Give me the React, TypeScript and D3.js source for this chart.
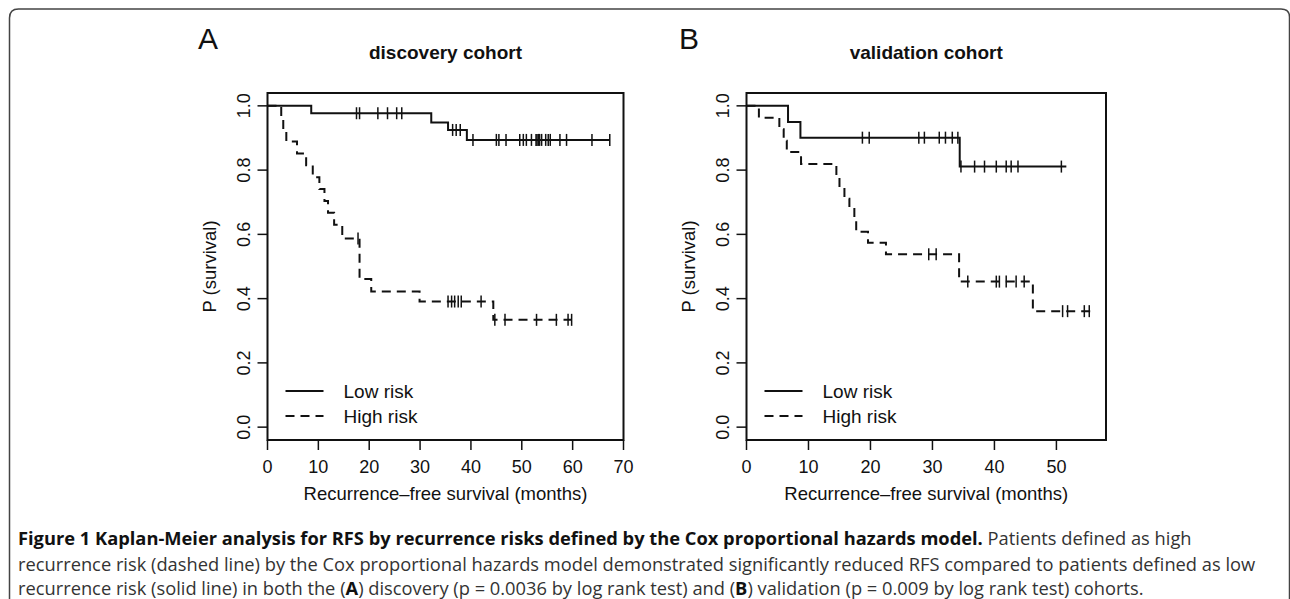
import React from "react";
import * as d3 from "d3";

// ---------- Data ----------
// Panel A: discovery cohort
const aLowTimes = [0, 8.6, 32.2, 35.5, 39.2];
const aLowSurv = [1, 0.977, 0.948, 0.925, 0.894];
const aLowEnd = 67.3;
const aLowCensor = [17.5, 18.1, 21.7, 23.6, 25.4, 26.4, 36.4, 37.1, 37.9, 40.4, 45.0, 45.5, 46.9, 49.6, 50.3, 50.9, 51.9, 52.8, 53.0, 53.3, 53.5, 53.9, 54.7, 55.2, 55.6, 57.5, 58.8, 63.8, 67.3];

const aHighTimes = [0, 2.7, 3.1, 3.7, 5.8, 7.6, 8.9, 10.2, 11.2, 11.9, 13.1, 14.7, 18.1, 20.4, 29.9, 44.4];
const aHighSurv = [1, 0.963, 0.926, 0.889, 0.852, 0.815, 0.778, 0.741, 0.704, 0.667, 0.63, 0.587, 0.461, 0.422, 0.391, 0.334];
const aHighEnd = 59.8;
const aHighCensor = [17.8, 35.5, 36.2, 36.8, 37.5, 38.1, 42.0, 44.7, 46.7, 52.9, 56.8, 59.1, 59.8];

// Panel B: validation cohort
const bLowTimes = [0, 6.7, 8.7, 34.4];
const bLowSurv = [1, 0.95, 0.901, 0.811];
const bLowEnd = 51.6;
const bLowCensor = [18.7, 19.8, 27.8, 28.7, 31.1, 32.1, 33.2, 34.1, 34.6, 36.8, 38.4, 40.3, 41.9, 42.7, 43.8, 50.8];

const bHighTimes = [0, 2.0, 5.3, 6.0, 6.5, 8.8, 14.5, 15.0, 15.8, 16.6, 17.4, 17.7, 19.6, 22.5, 34.3, 46.2];
const bHighSurv = [1, 0.963, 0.927, 0.891, 0.856, 0.819, 0.783, 0.747, 0.711, 0.679, 0.643, 0.608, 0.574, 0.538, 0.453, 0.361];
const bHighEnd = 55.8;
const bHighCensor = [29.4, 30.6, 35.7, 40.3, 40.8, 41.9, 43.5, 44.8, 51.0, 51.8, 54.5, 55.3];

const aXTicks = [0, 10, 20, 30, 40, 50, 60, 70];
const bXTicks = [0, 10, 20, 30, 40, 50];
const yTicks = [0, 0.2, 0.4, 0.6, 0.8, 1.0];
const legendLabels = ["Low risk", "High risk"];

const FONT = "'Liberation Sans', Arial, Helvetica, sans-serif";
const CAP_FONT = "'Open Sans', 'Noto Sans', sans-serif";
const DASH = "9,6";

type Box = { left: number; right: number; top: number; bottom: number };

function stepValue(times: number[], surv: number[], t: number) {
  let v = surv[0];
  for (let i = 0; i < times.length; i++) if (times[i] <= t) v = surv[i];
  return v;
}

function Panel(props: {
  box: Box;
  xMax: number;
  xTicks: number[];
  title: string;
  letter: string;
  letterX: number;
  lowT: number[];
  lowS: number[];
  lowEnd: number;
  lowC: number[];
  highT: number[];
  highS: number[];
  highEnd: number;
  highC: number[];
}) {
  const { box } = props;
  const x = d3.scaleLinear().domain([0, props.xMax]).range([box.left, box.right]);
  const y = d3.scaleLinear().domain([-0.04, 1.04]).range([box.bottom, box.top]);
  const line = d3
    .line<[number, number]>()
    .x((d) => x(d[0]))
    .y((d) => y(d[1]))
    .curve(d3.curveStepAfter);

  const mk = (T: number[], S: number[], end: number): [number, number][] => {
    const pts: [number, number][] = T.map((t, i) => [t, S[i]]);
    pts.push([end, S[S.length - 1]]);
    return pts;
  };
  const lowPath = line(mk(props.lowT, props.lowS, props.lowEnd)) || "";
  const highPath = line(mk(props.highT, props.highS, props.highEnd)) || "";
  const cx = (box.left + box.right) / 2;
  const cy = (box.top + box.bottom) / 2;
  const legX = box.left + 18;

  return (
    <g>
      <text x={props.letterX} y={49} fontFamily={FONT} fontSize={30} fill="#111">
        {props.letter}
      </text>
      <text x={cx} y={59} textAnchor="middle" fontFamily={FONT} fontSize={19} fontWeight="bold" fill="#111">
        {props.title}
      </text>
      {/* box */}
      <rect
        x={box.left}
        y={box.top}
        width={box.right - box.left}
        height={box.bottom - box.top}
        fill="none"
        stroke="#111"
        strokeWidth={2}
      />
      {/* y axis */}
      {yTicks.map((t) => (
        <g key={"y" + t}>
          <line x1={box.left - 10} x2={box.left} y1={y(t)} y2={y(t)} stroke="#111" strokeWidth={1.5} />
          <text
            transform={`translate(${box.left - 18},${y(t)}) rotate(-90)`}
            textAnchor="middle"
            fontFamily={FONT}
            fontSize={18}
            fill="#111"
          >
            {t.toFixed(1)}
          </text>
        </g>
      ))}
      <text
        transform={`translate(${box.left - 52},${cy}) rotate(-90)`}
        textAnchor="middle"
        fontFamily={FONT}
        fontSize={18.5}
        fill="#111"
      >
        P (survival)
      </text>
      {/* x axis */}
      {props.xTicks.map((t) => (
        <g key={"x" + t}>
          <line x1={x(t)} x2={x(t)} y1={box.bottom} y2={box.bottom + 10} stroke="#111" strokeWidth={1.5} />
          <text x={x(t)} y={473} textAnchor="middle" fontFamily={FONT} fontSize={18} fill="#111">
            {t}
          </text>
        </g>
      ))}
      <text x={cx} y={500} textAnchor="middle" fontFamily={FONT} fontSize={18.5} fill="#111">
        Recurrence–free survival (months)
      </text>
      {/* curves */}
      <path d={lowPath} fill="none" stroke="#111" strokeWidth={2} />
      <path d={highPath} fill="none" stroke="#111" strokeWidth={2} strokeDasharray={DASH} />
      {props.lowC.map((t, i) => {
        const v = stepValue(props.lowT, props.lowS, t);
        return <line key={"lc" + i} x1={x(t)} x2={x(t)} y1={y(v) - 6} y2={y(v) + 6} stroke="#111" strokeWidth={1.5} />;
      })}
      {props.highC.map((t, i) => {
        const v = stepValue(props.highT, props.highS, t);
        return <line key={"hc" + i} x1={x(t)} x2={x(t)} y1={y(v) - 6} y2={y(v) + 6} stroke="#111" strokeWidth={1.5} />;
      })}
      {/* legend */}
      <line x1={legX} x2={legX + 38} y1={391} y2={391} stroke="#111" strokeWidth={2} />
      <text x={legX + 58} y={398} fontFamily={FONT} fontSize={19} fill="#111">
        {legendLabels[0]}
      </text>
      <line x1={legX} x2={legX + 38} y1={416} y2={416} stroke="#111" strokeWidth={2} strokeDasharray={DASH} />
      <text x={legX + 58} y={423} fontFamily={FONT} fontSize={19} fill="#111">
        {legendLabels[1]}
      </text>
    </g>
  );
}

export default function App() {
  return (
    <svg
      width={1290}
      height={599}
      style={{ position: "absolute", left: 0, top: 0, background: "#fff" }}
    >
      <rect x={0} y={0} width={1290} height={599} fill="#fff" />
      <path
        d="M 9.5 620 V 18 Q 9.5 9 18.5 9 H 1281 Q 1289.5 9 1289.5 17 V 620"
        fill="none"
        stroke="#444"
        strokeWidth={1.5}
      />
      <Panel
        box={{ left: 267.5, right: 623.5, top: 93, bottom: 440 }}
        xMax={70}
        xTicks={aXTicks}
        title="discovery cohort"
        letter="A"
        letterX={198}
        lowT={aLowTimes}
        lowS={aLowSurv}
        lowEnd={aLowEnd}
        lowC={aLowCensor}
        highT={aHighTimes}
        highS={aHighSurv}
        highEnd={aHighEnd}
        highC={aHighCensor}
      />
      <Panel
        box={{ left: 746.5, right: 1106, top: 93, bottom: 440 }}
        xMax={58}
        xTicks={bXTicks}
        title="validation cohort"
        letter="B"
        letterX={679}
        lowT={bLowTimes}
        lowS={bLowSurv}
        lowEnd={bLowEnd}
        lowC={bLowCensor}
        highT={bHighTimes}
        highS={bHighSurv}
        highEnd={bHighEnd}
        highC={bHighCensor}
      />
      <g fontFamily={CAP_FONT} fontSize={18.3} fill="#333">
        <text x={18} y={545}>
          <tspan fontWeight="bold" fill="#111">
            Figure 1 Kaplan-Meier analysis for RFS by recurrence risks defined by the Cox proportional hazards model.
          </tspan>
          <tspan> Patients defined as high</tspan>
        </text>
        <text x={18} y={571}>
          recurrence risk (dashed line) by the Cox proportional hazards model demonstrated significantly reduced RFS compared to patients defined as low
        </text>
        <text x={18} y={595}>
          <tspan>recurrence risk (solid line) in both the (</tspan>
          <tspan fontWeight="bold" fill="#111">A</tspan>
          <tspan>) discovery (p = 0.0036 by log rank test) and (</tspan>
          <tspan fontWeight="bold" fill="#111">B</tspan>
          <tspan>) validation (p = 0.009 by log rank test) cohorts.</tspan>
        </text>
      </g>
    </svg>
  );
}
